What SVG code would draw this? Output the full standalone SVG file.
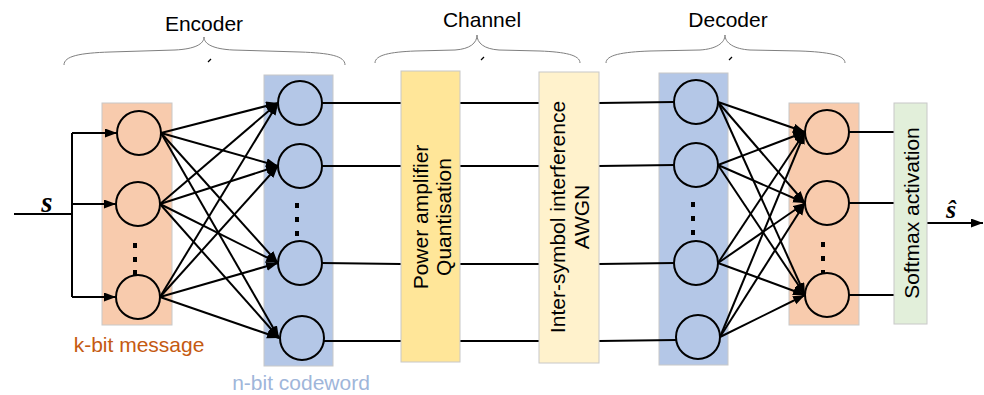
<svg xmlns="http://www.w3.org/2000/svg" width="984" height="395" viewBox="0 0 984 395">
  <style>
    .lbl { font-family: "Liberation Sans", Arial, sans-serif; font-size: 21px; fill: #000; }
    .brace { fill: none; stroke: #7f7f7f; stroke-width: 1; }
    .tick { fill: none; stroke: #000; stroke-width: 1.2; }
    .node { stroke: #000; stroke-width: 2; }
    .wire { fill: none; stroke: #000; stroke-width: 2; }
    .arr { fill: none; stroke: #000; stroke-width: 2; }
    .dot { fill: #000; }
    .box { stroke: #c8c8c8; stroke-width: 1; }
    .sym { font-family: "Liberation Serif", "Times New Roman", serif; font-weight: bold; font-style: italic; }
  </style>
  <defs>
    <marker id="head" markerUnits="userSpaceOnUse" markerWidth="13" markerHeight="10" refX="12" refY="4.5" orient="auto">
      <path d="M0,0 L12,4.5 L0,9 z" fill="#000"/>
    </marker>
  </defs>

  <rect width="984" height="395" fill="#fff"/>

  <!-- section braces and titles -->
  <g id="encoder-title">
    <path class="brace" d="M64,65 C64,56 80,53 110,52 L175,50 C195,49 204,44 204,37 C204,44 213,49 233,50 L300,52 C330,53 345,56 345,65"/>
    <path class="tick" d="M208,62 L211,59"/>
    <text class="lbl" x="204" y="31" text-anchor="middle">Encoder</text>
  </g>
  <g id="channel-title">
    <path class="brace" d="M375,63 C375,55 390,52 415,51 L455,50 C470,49 477,43 477,35 C477,43 484,49 499,50 L540,51 C565,52 580,55 580,63"/>
    <path class="tick" d="M481,60 L484,57"/>
    <text class="lbl" x="482" y="27" text-anchor="middle">Channel</text>
  </g>
  <g id="decoder-title">
    <path class="brace" d="M606,63 C606,55 622,52 650,51 L700,50 C716,49 725,43 725,35 C725,43 734,49 750,50 L800,51 C828,52 845,55 845,63"/>
    <path class="tick" d="M729,60 L732,57"/>
    <text class="lbl" x="728" y="27" text-anchor="middle">Decoder</text>
  </g>

  <!-- layer panels (drawn beneath the wiring) -->
  <g id="k-bit-message">
    <rect class="box" x="102" y="103" width="70" height="222" fill="#f8cbad"/>
    <text class="lbl" x="139" y="352" text-anchor="middle" style="fill:#c55a11">k-bit message</text>
  </g>
  <g id="n-bit-codeword">
    <rect class="box" x="264" y="75" width="69" height="291" fill="#b4c7e7"/>
    <text class="lbl" x="301" y="390" text-anchor="middle" style="fill:#9fb6da">n-bit codeword</text>
  </g>
  <g id="decoder-n-bit">
    <rect class="box" x="659" y="73" width="69" height="292" fill="#b4c7e7"/>
  </g>
  <g id="decoder-k-bit">
    <rect class="box" x="789" y="103" width="70" height="222" fill="#f8cbad"/>
  </g>

  <!-- connectors -->
  <g id="connectors" marker-end="url(#head)">
    <!-- input s fan-out -->
    <path class="wire" marker-end="none" d="M14,214 L72,214 M72,133 L72,297"/>
    <path class="arr" d="M72,133 L117,133"/>
    <path class="arr" d="M72,204 L116,204"/>
    <path class="arr" d="M72,297 L116,297"/>

    <!-- encoder: k-bit to n-bit, fully connected -->
    <path class="arr" d="M161,133 L278,103"/>
    <path class="arr" d="M161,133 L278,166"/>
    <path class="arr" d="M161,133 L278,263"/>
    <path class="arr" d="M161,133 L279,338"/>
    <path class="arr" d="M160,204 L278,103"/>
    <path class="arr" d="M160,204 L278,166"/>
    <path class="arr" d="M160,204 L278,263"/>
    <path class="arr" d="M160,204 L279,338"/>
    <path class="arr" d="M160,297 L278,103"/>
    <path class="arr" d="M160,297 L278,166"/>
    <path class="arr" d="M160,297 L278,263"/>
    <path class="arr" d="M160,297 L279,338"/>

    <!-- channel lines -->
    <path class="wire" marker-end="none" d="M322,103 L401,103 M460,103 L539,103 M599,103 L674,102"/>
    <path class="wire" marker-end="none" d="M322,166 L401,166 M460,166 L539,166 M599,166 L674,165"/>
    <path class="wire" marker-end="none" d="M322,263 L401,264 M460,264 L539,264 M599,264 L674,263"/>
    <path class="wire" marker-end="none" d="M324,341 L401,341 M460,341 L539,341 M599,341 L676,340"/>

    <!-- decoder: n-bit to k-bit, fully connected -->
    <path class="arr" d="M718,102 L805,132"/>
    <path class="arr" d="M718,102 L805,203"/>
    <path class="arr" d="M718,102 L805,295"/>
    <path class="arr" d="M718,165 L805,132"/>
    <path class="arr" d="M718,165 L805,203"/>
    <path class="arr" d="M718,165 L805,295"/>
    <path class="arr" d="M718,263 L805,132"/>
    <path class="arr" d="M718,263 L805,203"/>
    <path class="arr" d="M718,263 L805,295"/>
    <path class="arr" d="M720,337 L805,132"/>
    <path class="arr" d="M720,337 L805,203"/>
    <path class="arr" d="M720,337 L805,295"/>

    <!-- to softmax and output -->
    <path class="wire" marker-end="none" d="M849,132 L894,132 M849,203 L894,203 M849,295 L894,295"/>
    <path class="arr" d="M927,223 L983,223"/>
  </g>

  <!-- encoder input neurons -->
  <g id="k-nodes">
    <circle class="node" cx="139" cy="133" r="22" fill="#f8cbad"/>
    <circle class="node" cx="138" cy="204" r="22" fill="#f8cbad"/>
    <rect class="dot" x="133" y="243" width="4" height="5"/>
    <rect class="dot" x="133" y="257" width="4" height="5"/>
    <rect class="dot" x="133" y="270" width="4" height="5"/>
    <circle class="node" cx="138" cy="297" r="22" fill="#f8cbad"/>
  </g>

  <!-- encoder output neurons -->
  <g id="n-nodes">
    <circle class="node" cx="300" cy="103" r="22" fill="#b4c7e7"/>
    <circle class="node" cx="300" cy="166" r="22" fill="#b4c7e7"/>
    <rect class="dot" x="295" y="203" width="4" height="5"/>
    <rect class="dot" x="295" y="217" width="4" height="5"/>
    <rect class="dot" x="295" y="231" width="4" height="5"/>
    <circle class="node" cx="300" cy="263" r="22" fill="#b4c7e7"/>
    <circle class="node" cx="302" cy="338" r="22" fill="#b4c7e7"/>
  </g>

  <!-- channel impairments -->
  <g id="power-amplifier">
    <rect class="box" x="401" y="71" width="59" height="291" fill="#ffe699"/>
    <text class="lbl" transform="translate(428,217) rotate(-90)" text-anchor="middle">Power amplifier</text>
    <text class="lbl" transform="translate(451,217) rotate(-90)" text-anchor="middle">Quantisation</text>
  </g>
  <g id="isi-awgn">
    <rect class="box" x="539" y="72" width="60" height="291" fill="#fff2cc"/>
    <text class="lbl" transform="translate(565,217) rotate(-90)" text-anchor="middle">Inter-symbol interference</text>
    <text class="lbl" transform="translate(589,217) rotate(-90)" text-anchor="middle">AWGN</text>
  </g>

  <!-- decoder input neurons -->
  <g id="decoder-n-nodes">
    <circle class="node" cx="696" cy="102" r="22" fill="#b4c7e7"/>
    <circle class="node" cx="696" cy="165" r="22" fill="#b4c7e7"/>
    <rect class="dot" x="691" y="202" width="4" height="5"/>
    <rect class="dot" x="691" y="216" width="4" height="5"/>
    <rect class="dot" x="691" y="230" width="4" height="5"/>
    <circle class="node" cx="696" cy="263" r="22" fill="#b4c7e7"/>
    <circle class="node" cx="698" cy="337" r="22" fill="#b4c7e7"/>
  </g>

  <!-- decoder output neurons -->
  <g id="decoder-k-nodes">
    <circle class="node" cx="827" cy="132" r="22" fill="#f8cbad"/>
    <circle class="node" cx="827" cy="203" r="22" fill="#f8cbad"/>
    <rect class="dot" x="821" y="242" width="4" height="5"/>
    <rect class="dot" x="821" y="256" width="4" height="5"/>
    <rect class="dot" x="821" y="270" width="4" height="5"/>
    <circle class="node" cx="827" cy="295" r="22" fill="#f8cbad"/>
  </g>

  <g id="softmax">
    <rect class="box" x="894" y="103" width="33" height="221" fill="#e2efda"/>
    <text class="lbl" transform="translate(919,213) rotate(-90)" text-anchor="middle">Softmax activation</text>
  </g>

  <!-- input / output symbols -->
  <g id="input-s">
    <text class="sym" x="47" y="212" text-anchor="middle" font-size="29">s</text>
  </g>
  <g id="output-s-hat">
    <text class="sym" x="951" y="218" text-anchor="middle" font-size="26">ŝ</text>
  </g>
</svg>
